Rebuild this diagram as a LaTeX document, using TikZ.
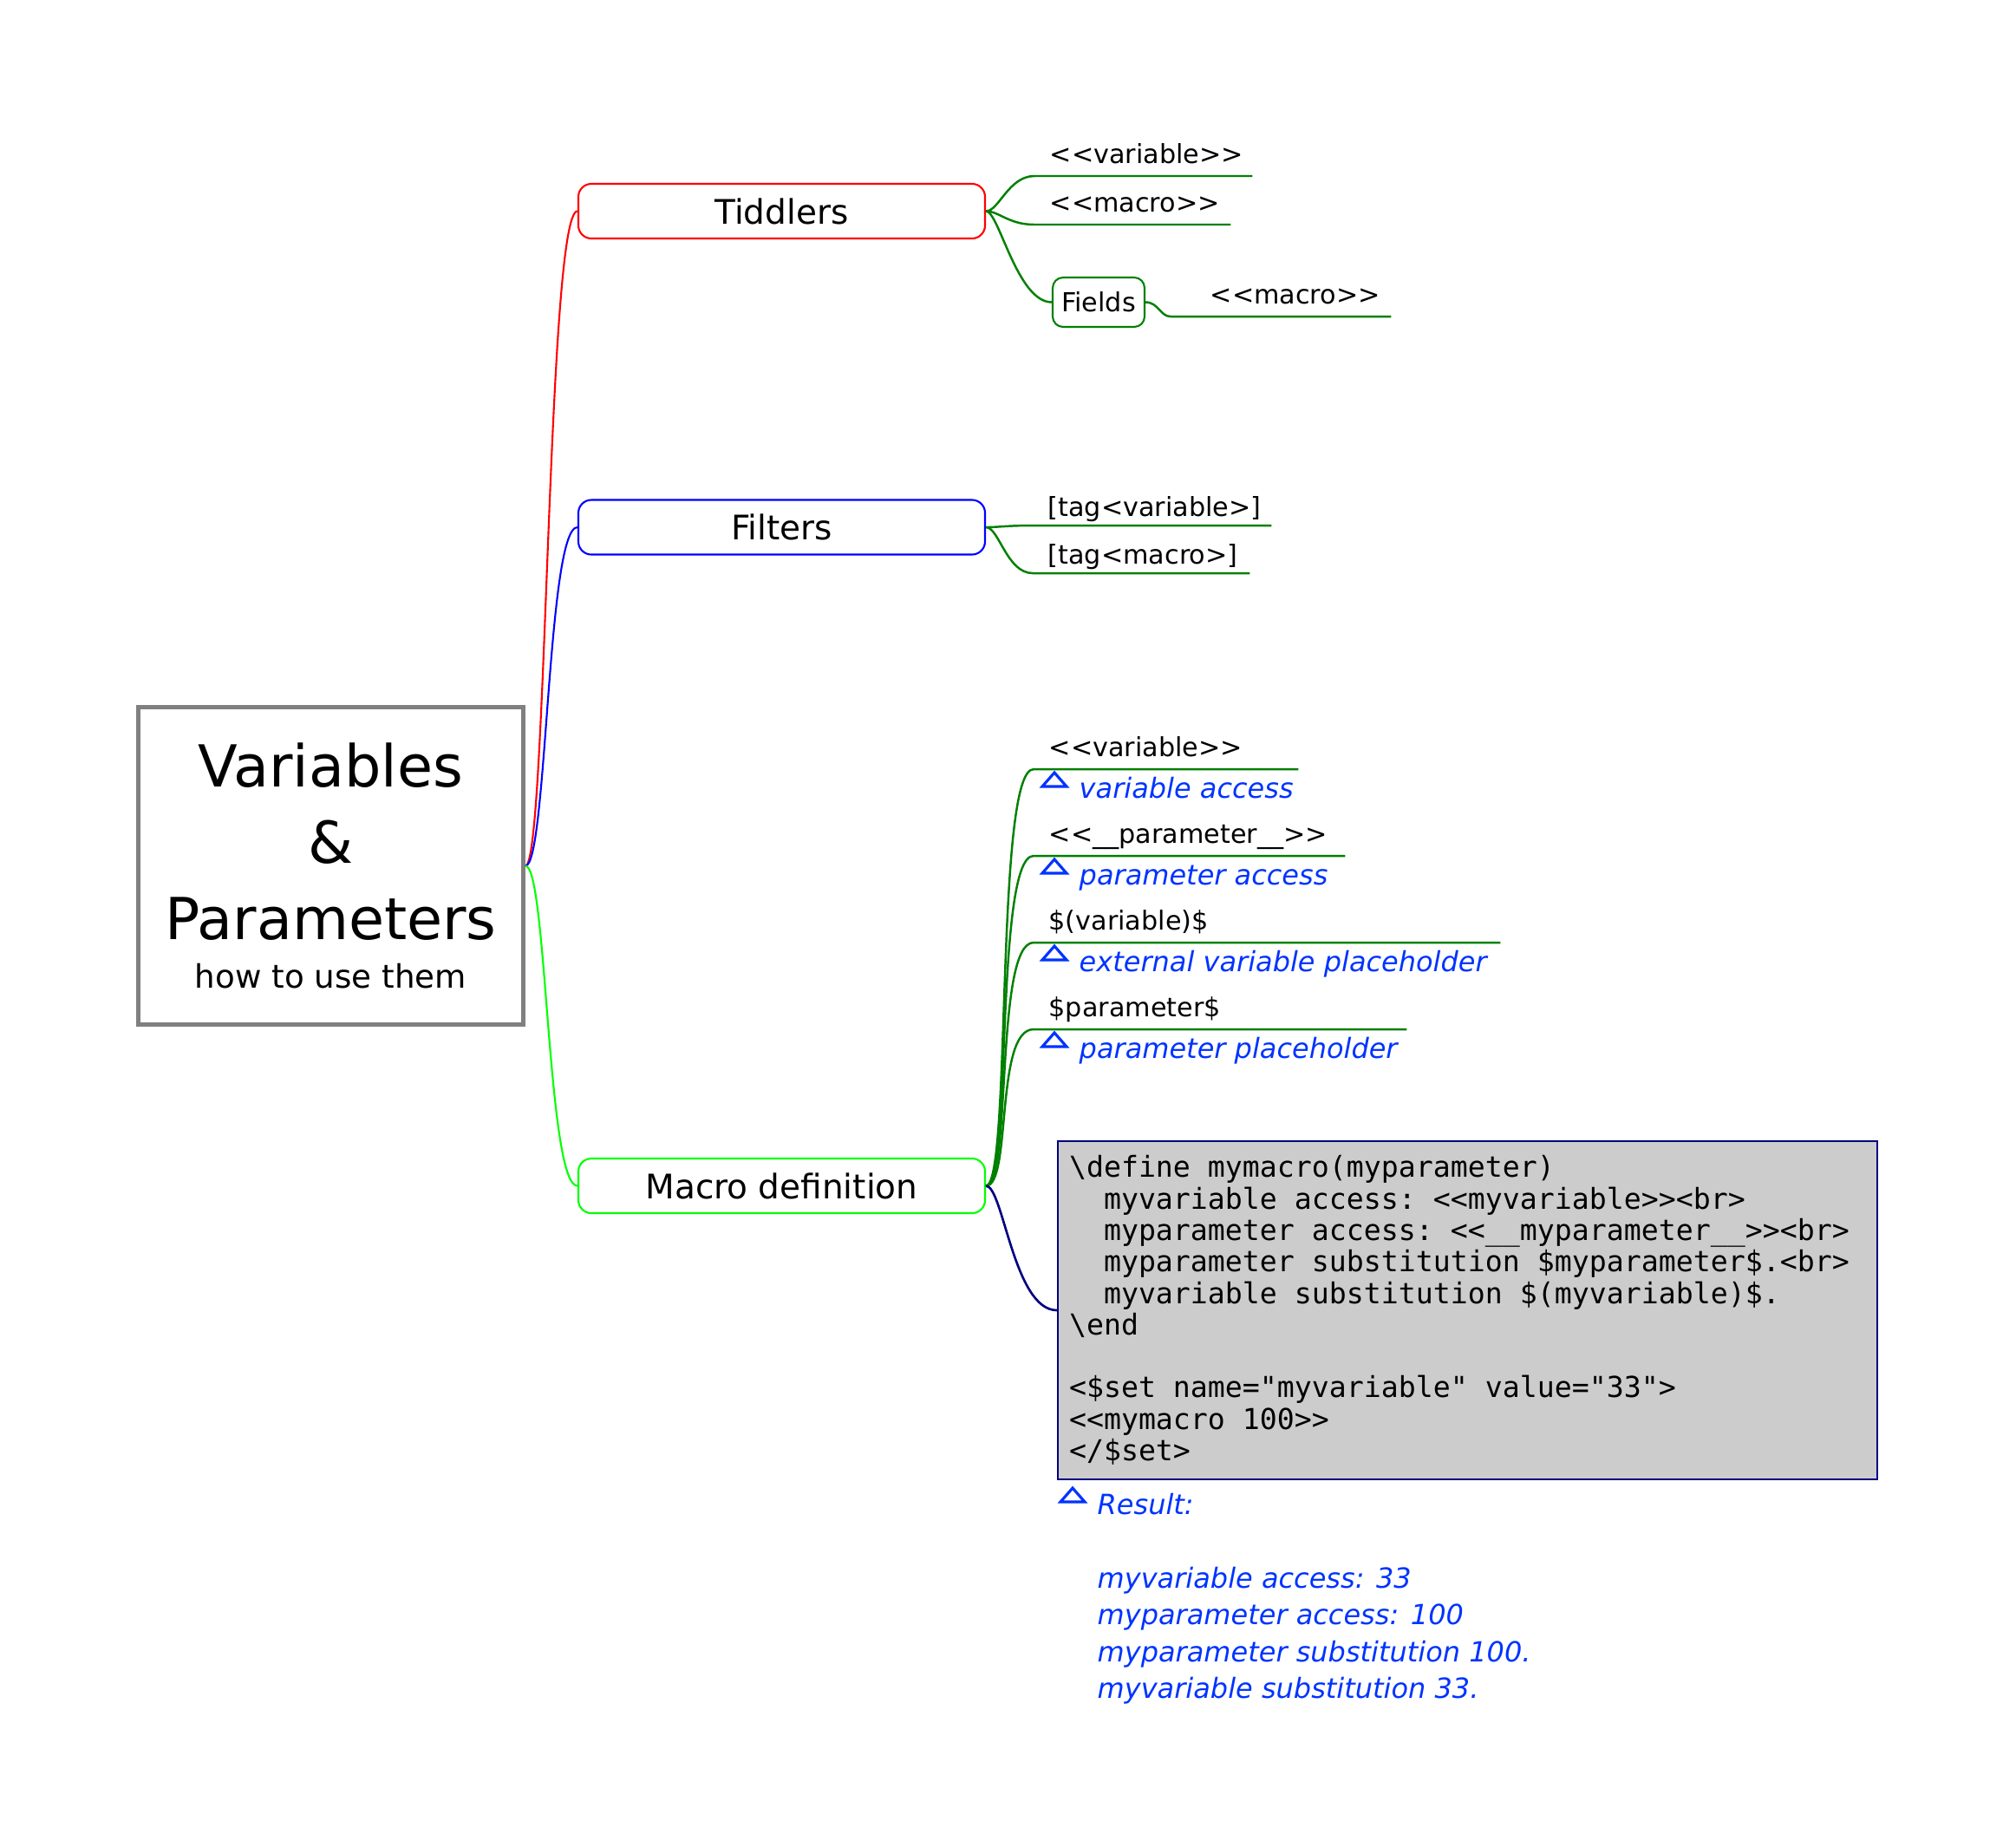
\documentclass[tikz,border=0pt]{standalone}
\usepackage{fontspec}
\setmainfont{DejaVu Sans}
\setmonofont{DejaVu Sans Mono}

\definecolor{tidred}{RGB}{255,0,0}
\definecolor{filblue}{RGB}{0,0,255}
\definecolor{macgreen}{RGB}{0,255,0}
\definecolor{kidgreen}{RGB}{0,128,0}
\definecolor{codenavy}{RGB}{0,0,128}
\definecolor{codegray}{RGB}{204,204,204}
\definecolor{noteblue}{RGB}{0,51,255}
\definecolor{rootgray}{RGB}{128,128,128}

\newcommand{\lblfont}{\fontsize{8.6}{10.5}\selectfont}
\newcommand{\notefont}{\fontsize{9.1}{12.1}\selectfont\itshape}
\newcommand{\codefont}{\ttfamily\fontsize{9.45}{10.33}\selectfont}
\newcommand{\subfont}{\fontsize{10.6}{13}\selectfont}
% full-width spaces in the code box (align=left makes them narrow)
\newcommand{\monospaces}{\spaceskip=0.602em\xspaceskip=0.602em\relax}
% keep << and >> from turning into guillemets
\newcommand{\dlt}{<\kern0pt<}
\newcommand{\dgt}{>\kern0pt>}

\tikzset{
  rootbox/.style={draw=rootgray, line width=1.42pt, minimum width=4.44cm, minimum height=3.66cm,
    align=center, inner sep=0pt, font=\fontsize{19}{25}\selectfont},
  topic/.style={line width=0.6pt, rounded corners=0.15cm, minimum width=4.69cm, minimum height=0.63cm,
    font=\fontsize{11.1}{13}\selectfont},
  fld/.style={draw=kidgreen, line width=0.6pt, rounded corners=0.12cm, minimum width=1.06cm,
    minimum height=0.57cm, inner sep=0pt, font=\lblfont},
  fork/.style={anchor=south west, inner xsep=0.17cm, inner ysep=0.14cm, text depth=0pt,
    align=left, text width=#1, font=\lblfont},
  kid/.style={draw=kidgreen, line width=0.7pt},
  note/.style={anchor=base west, inner sep=0pt, text=noteblue, font=\notefont},
  notetri/.style={draw=noteblue, line width=0.9pt},
  codebox/.style={draw=codenavy, fill=codegray, line width=0.6pt, minimum width=9.45cm,
    minimum height=3.90cm, inner xsep=0.13cm, text width=9.19cm, align=left, font=\codefont},
}

\newcommand{\notemark}[1]{\draw[notetri] ([shift={(-0.42,0.13)}]#1) -- ++(0.28,0) -- ++(-0.14,0.16) -- cycle;}

\begin{document}
\begin{tikzpicture}
  \useasboundingbox (0,0) rectangle (23.25,-21.29);

  % central topic
  \node[rootbox] (root) at (3.815,-9.985) {Variables\\\&\\Parameters\\[-8.8pt]{\subfont how to use them}};

  % main topics
  \node[topic, draw=tidred] (tid) at (9.015,-2.435) {Tiddlers};
  \node[topic, draw=filblue] (fil) at (9.015,-6.08) {Filters};
  \node[topic, draw=macgreen] (mac) at (9.015,-13.675) {Macro definition};

  \draw[tidred, line width=0.6pt] (root.east) .. controls +(0.25,0) and +(-0.35,0) .. (tid.west);
  \draw[filblue, line width=0.6pt] (root.east) .. controls +(0.25,0) and +(-0.35,0) .. (fil.west);
  \draw[macgreen, line width=0.6pt] (root.east) .. controls +(0.25,0) and +(-0.35,0) .. (mac.west);

  % Tiddlers
  \node[fork=2.16cm] (tvar) at (11.93,-2.03) {\dlt variable\dgt};
  \node[fork=1.91cm] (tmac) at (11.93,-2.59) {\dlt macro\dgt};
  \node[fld] (fld) at (12.67,-3.485) {Fields};
  \node[fork=1.91cm] (fmac) at (13.78,-3.65) {\dlt macro\dgt};

  \draw[kid] (tid.east) .. controls +(0.15,0) and +(-0.3,0) .. (tvar.south west) -- (tvar.south east);
  \draw[kid] (tid.east) .. controls +(0.15,0) and +(-0.3,0) .. (tmac.south west) -- (tmac.south east);
  \draw[kid] (tid.east) .. controls +(0.15,0) and +(-0.4,0) .. (fld.west);
  \draw[kid] (fld.east) .. controls +(0.15,0) and +(-0.12,0) .. ([xshift=-0.28cm]fmac.south west) -- (fmac.south east);

  % Filters
  \node[fork=2.40cm, inner ysep=0.1cm] (ftvar) at (11.91,-6.06) {[tag<variable>]};
  \node[fork=2.15cm, inner ysep=0.1cm] (ftmac) at (11.91,-6.61) {[tag<macro>]};

  \draw[kid] (fil.east) .. controls +(0.15,0) and +(-0.3,0) .. (ftvar.south west) -- (ftvar.south east);
  \draw[kid] (fil.east) .. controls +(0.15,0) and +(-0.3,0) .. (ftmac.south west) -- (ftmac.south east);

  % Macro definition
  \node[fork=2.70cm] (mvar) at (11.92,-8.87) {\dlt variable\dgt};
  \node[fork=3.24cm] (mpar) at (11.92,-9.87) {\dlt\_\_parameter\_\_\dgt};
  \node[fork=5.03cm] (mext) at (11.92,-10.87) {\$(variable)\$};
  \node[fork=3.95cm] (mplh) at (11.92,-11.87) {\$parameter\$};

  \node[note] (mvarn) at ([shift={(0.52,-0.33)}]mvar.south west) {variable access};
  \node[note] (mparn) at ([shift={(0.52,-0.33)}]mpar.south west) {parameter access};
  \node[note] (mextn) at ([shift={(0.52,-0.33)}]mext.south west) {external variable placeholder};
  \node[note] (mplhn) at ([shift={(0.52,-0.33)}]mplh.south west) {parameter placeholder};
  \notemark{mvarn.base west}
  \notemark{mparn.base west}
  \notemark{mextn.base west}
  \notemark{mplhn.base west}

  \draw[kid] (mac.east) .. controls +(0.3,0) and +(-0.45,0) .. (mvar.south west) -- (mvar.south east);
  \draw[kid] (mac.east) .. controls +(0.3,0) and +(-0.45,0) .. (mpar.south west) -- (mpar.south east);
  \draw[kid] (mac.east) .. controls +(0.3,0) and +(-0.45,0) .. (mext.south west) -- (mext.south east);
  \draw[kid] (mac.east) .. controls +(0.3,0) and +(-0.45,0) .. (mplh.south west) -- (mplh.south east);

  % code sample
  \node[codebox] (code) at (16.925,-15.11) {\monospaces
    \textbackslash define mymacro(myparameter)\\
    \phantom{mm}myvariable access: \dlt myvariable\dgt<br>\\
    \phantom{mm}myparameter access: \dlt\_\_myparameter\_\_\dgt<br>\\
    \phantom{mm}myparameter substitution \$myparameter\$.<br>\\
    \phantom{mm}myvariable substitution \$(myvariable)\$.\\
    \textbackslash end\\[10.33pt]
    <\$set name="myvariable" value="33">\\
    \dlt mymacro 100\dgt\\
    </\$set>};
  \draw[codenavy, line width=0.75pt] (mac.east) .. controls +(0.2,0) and +(-0.5,0) .. (code.west);

  \node[note, anchor=north west, align=left] (res) at (12.65,-17.21) {Result:\\[12.1pt]
    myvariable access: 33\\
    myparameter access: 100\\
    myparameter substitution 100.\\
    myvariable substitution 33.};
  \coordinate (resbase) at ([yshift=-0.24cm]res.north west);
  \notemark{resbase}
\end{tikzpicture}
\end{document}
